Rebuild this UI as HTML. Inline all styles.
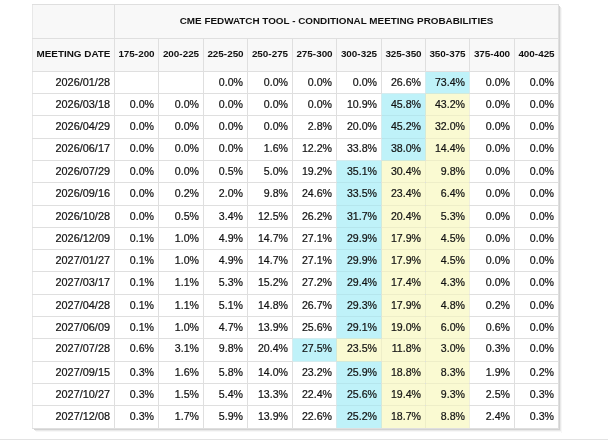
<!DOCTYPE html>
<html><head><meta charset="utf-8"><title>CME FedWatch Tool</title><style>
html,body{margin:0;padding:0;background:#fff;width:608px;height:444px;overflow:hidden;}
body{position:relative;font-family:"Liberation Sans",Arial,sans-serif;color:#111;}
div{position:absolute;box-sizing:border-box;white-space:nowrap;}
.hbg{background:#f8f8f8;}
.c{background:#bff2f9;}
.y{background:#fafad2;}
.vl{width:1px;background:#dfdfdf;}
.hl{height:1px;background:#dfdfdf;}
.th{text-align:center;font-weight:bold;font-size:9.9px;color:#111;}
.t{margin-top:-1.5px;}
.h2{margin-top:-1px;}
.td{-webkit-text-stroke:0.2px #111;text-align:right;font-size:10.6px;padding-right:4px;}
.dt{font-size:10.9px;}
</style></head>
<body>
<div style="left:32px;top:4px;width:527px;height:425px;background:#fff"></div>
<div style="left:559px;top:6px;width:1px;height:425px;background:#d2d2d2"></div>
<div style="left:34px;top:429px;width:526px;height:1px;background:#d2d2d2"></div>
<div style="left:560px;top:7px;width:1px;height:425px;background:#e9e9e9"></div>
<div style="left:35px;top:430px;width:526px;height:1px;background:#e9e9e9"></div>
<div style="left:561px;top:8px;width:1px;height:425px;background:#f7f7f7"></div>
<div style="left:36px;top:431px;width:526px;height:1px;background:#f7f7f7"></div>
<div style="left:0;top:439px;width:608px;height:1px;background:#e3e3e3"></div>
<div class="hbg" style="left:32px;top:4px;width:527px;height:67px"></div>
<div class="c" style="left:426px;top:72px;width:43px;height:21px"></div>
<div class="c" style="left:382px;top:94px;width:43px;height:21px"></div>
<div class="y" style="left:426px;top:94px;width:43px;height:21px"></div>
<div class="c" style="left:382px;top:116px;width:43px;height:22px"></div>
<div class="y" style="left:426px;top:116px;width:43px;height:22px"></div>
<div class="c" style="left:382px;top:139px;width:43px;height:21px"></div>
<div class="y" style="left:426px;top:139px;width:43px;height:21px"></div>
<div class="c" style="left:337px;top:161px;width:44px;height:21px"></div>
<div class="y" style="left:382px;top:161px;width:43px;height:21px"></div>
<div class="y" style="left:426px;top:161px;width:43px;height:21px"></div>
<div class="c" style="left:337px;top:183px;width:44px;height:22px"></div>
<div class="y" style="left:382px;top:183px;width:43px;height:22px"></div>
<div class="y" style="left:426px;top:183px;width:43px;height:22px"></div>
<div class="c" style="left:337px;top:206px;width:44px;height:21px"></div>
<div class="y" style="left:382px;top:206px;width:43px;height:21px"></div>
<div class="y" style="left:426px;top:206px;width:43px;height:21px"></div>
<div class="c" style="left:337px;top:228px;width:44px;height:21px"></div>
<div class="y" style="left:382px;top:228px;width:43px;height:21px"></div>
<div class="y" style="left:426px;top:228px;width:43px;height:21px"></div>
<div class="c" style="left:337px;top:250px;width:44px;height:21px"></div>
<div class="y" style="left:382px;top:250px;width:43px;height:21px"></div>
<div class="y" style="left:426px;top:250px;width:43px;height:21px"></div>
<div class="c" style="left:337px;top:272px;width:44px;height:22px"></div>
<div class="y" style="left:382px;top:272px;width:43px;height:22px"></div>
<div class="y" style="left:426px;top:272px;width:43px;height:22px"></div>
<div class="c" style="left:337px;top:295px;width:44px;height:21px"></div>
<div class="y" style="left:382px;top:295px;width:43px;height:21px"></div>
<div class="y" style="left:426px;top:295px;width:43px;height:21px"></div>
<div class="c" style="left:337px;top:317px;width:44px;height:21px"></div>
<div class="y" style="left:382px;top:317px;width:43px;height:21px"></div>
<div class="y" style="left:426px;top:317px;width:43px;height:21px"></div>
<div class="c" style="left:293px;top:339px;width:43px;height:22px"></div>
<div class="y" style="left:337px;top:339px;width:44px;height:22px"></div>
<div class="y" style="left:382px;top:339px;width:43px;height:22px"></div>
<div class="y" style="left:426px;top:339px;width:43px;height:22px"></div>
<div class="c" style="left:337px;top:362px;width:44px;height:21px"></div>
<div class="y" style="left:382px;top:362px;width:43px;height:21px"></div>
<div class="y" style="left:426px;top:362px;width:43px;height:21px"></div>
<div class="c" style="left:337px;top:384px;width:44px;height:21px"></div>
<div class="y" style="left:382px;top:384px;width:43px;height:21px"></div>
<div class="y" style="left:426px;top:384px;width:43px;height:21px"></div>
<div class="c" style="left:337px;top:406px;width:44px;height:22px"></div>
<div class="y" style="left:382px;top:406px;width:43px;height:22px"></div>
<div class="y" style="left:426px;top:406px;width:43px;height:22px"></div>
<div class="vl" style="left:32px;top:4px;height:425px;background:#e8e8e8"></div>
<div class="vl" style="left:114px;top:4px;height:425px"></div>
<div class="vl" style="left:158px;top:38px;height:391px"></div>
<div class="vl" style="left:203px;top:38px;height:391px"></div>
<div class="vl" style="left:247px;top:38px;height:391px"></div>
<div class="vl" style="left:292px;top:38px;height:391px"></div>
<div class="vl" style="left:336px;top:38px;height:391px"></div>
<div class="vl" style="left:381px;top:38px;height:391px"></div>
<div class="vl" style="left:425px;top:38px;height:391px"></div>
<div class="vl" style="left:469px;top:38px;height:391px"></div>
<div class="vl" style="left:514px;top:38px;height:391px"></div>
<div class="vl" style="left:558px;top:4px;height:425px"></div>
<div class="hl" style="left:32px;top:4px;width:527px"></div>
<div class="hl" style="left:32px;top:38px;width:527px"></div>
<div class="hl" style="left:32px;top:71px;width:527px"></div>
<div class="hl" style="left:32px;top:93px;width:527px"></div>
<div class="hl" style="left:32px;top:115px;width:527px"></div>
<div class="hl" style="left:32px;top:138px;width:527px"></div>
<div class="hl" style="left:32px;top:160px;width:527px"></div>
<div class="hl" style="left:32px;top:182px;width:527px"></div>
<div class="hl" style="left:32px;top:205px;width:527px"></div>
<div class="hl" style="left:32px;top:227px;width:527px"></div>
<div class="hl" style="left:32px;top:249px;width:527px"></div>
<div class="hl" style="left:32px;top:271px;width:527px"></div>
<div class="hl" style="left:32px;top:294px;width:527px"></div>
<div class="hl" style="left:32px;top:316px;width:527px"></div>
<div class="hl" style="left:32px;top:338px;width:527px"></div>
<div class="hl" style="left:32px;top:361px;width:527px"></div>
<div class="hl" style="left:32px;top:383px;width:527px"></div>
<div class="hl" style="left:32px;top:405px;width:527px"></div>
<div class="hl" style="left:32px;top:428px;width:527px"></div>
<div style="left:425px;top:72px;width:1px;height:21px;background:#d4ecef"></div>
<div style="left:469px;top:72px;width:1px;height:21px;background:#d4ecef"></div>
<div style="left:382px;top:93px;width:43px;height:1px;background:#d4ecef"></div>
<div style="left:381px;top:94px;width:1px;height:21px;background:#d4ecef"></div>
<div style="left:426px;top:93px;width:43px;height:1px;background:#d1eada"></div>
<div style="left:425px;top:94px;width:1px;height:21px;background:#d1eada"></div>
<div style="left:469px;top:94px;width:1px;height:21px;background:#f0f0dd"></div>
<div style="left:382px;top:115px;width:43px;height:1px;background:#b5e6ed"></div>
<div style="left:381px;top:116px;width:1px;height:22px;background:#d4ecef"></div>
<div style="left:426px;top:115px;width:43px;height:1px;background:#eeeec8"></div>
<div style="left:425px;top:116px;width:1px;height:22px;background:#d1eada"></div>
<div style="left:469px;top:116px;width:1px;height:22px;background:#f0f0dd"></div>
<div style="left:382px;top:138px;width:43px;height:1px;background:#b5e6ed"></div>
<div style="left:381px;top:139px;width:1px;height:21px;background:#d4ecef"></div>
<div style="left:426px;top:138px;width:43px;height:1px;background:#eeeec8"></div>
<div style="left:425px;top:139px;width:1px;height:21px;background:#d1eada"></div>
<div style="left:469px;top:139px;width:1px;height:21px;background:#f0f0dd"></div>
<div style="left:337px;top:160px;width:44px;height:1px;background:#d4ecef"></div>
<div style="left:336px;top:161px;width:1px;height:21px;background:#d4ecef"></div>
<div style="left:382px;top:160px;width:43px;height:1px;background:#d1eada"></div>
<div style="left:381px;top:161px;width:1px;height:21px;background:#d1eada"></div>
<div style="left:426px;top:160px;width:43px;height:1px;background:#eeeec8"></div>
<div style="left:425px;top:161px;width:1px;height:21px;background:#eeeec8"></div>
<div style="left:469px;top:161px;width:1px;height:21px;background:#f0f0dd"></div>
<div style="left:337px;top:182px;width:44px;height:1px;background:#b5e6ed"></div>
<div style="left:336px;top:183px;width:1px;height:22px;background:#d4ecef"></div>
<div style="left:382px;top:182px;width:43px;height:1px;background:#eeeec8"></div>
<div style="left:381px;top:183px;width:1px;height:22px;background:#d1eada"></div>
<div style="left:426px;top:182px;width:43px;height:1px;background:#eeeec8"></div>
<div style="left:425px;top:183px;width:1px;height:22px;background:#eeeec8"></div>
<div style="left:469px;top:183px;width:1px;height:22px;background:#f0f0dd"></div>
<div style="left:337px;top:205px;width:44px;height:1px;background:#b5e6ed"></div>
<div style="left:336px;top:206px;width:1px;height:21px;background:#d4ecef"></div>
<div style="left:382px;top:205px;width:43px;height:1px;background:#eeeec8"></div>
<div style="left:381px;top:206px;width:1px;height:21px;background:#d1eada"></div>
<div style="left:426px;top:205px;width:43px;height:1px;background:#eeeec8"></div>
<div style="left:425px;top:206px;width:1px;height:21px;background:#eeeec8"></div>
<div style="left:469px;top:206px;width:1px;height:21px;background:#f0f0dd"></div>
<div style="left:337px;top:227px;width:44px;height:1px;background:#b5e6ed"></div>
<div style="left:336px;top:228px;width:1px;height:21px;background:#d4ecef"></div>
<div style="left:382px;top:227px;width:43px;height:1px;background:#eeeec8"></div>
<div style="left:381px;top:228px;width:1px;height:21px;background:#d1eada"></div>
<div style="left:426px;top:227px;width:43px;height:1px;background:#eeeec8"></div>
<div style="left:425px;top:228px;width:1px;height:21px;background:#eeeec8"></div>
<div style="left:469px;top:228px;width:1px;height:21px;background:#f0f0dd"></div>
<div style="left:337px;top:249px;width:44px;height:1px;background:#b5e6ed"></div>
<div style="left:336px;top:250px;width:1px;height:21px;background:#d4ecef"></div>
<div style="left:382px;top:249px;width:43px;height:1px;background:#eeeec8"></div>
<div style="left:381px;top:250px;width:1px;height:21px;background:#d1eada"></div>
<div style="left:426px;top:249px;width:43px;height:1px;background:#eeeec8"></div>
<div style="left:425px;top:250px;width:1px;height:21px;background:#eeeec8"></div>
<div style="left:469px;top:250px;width:1px;height:21px;background:#f0f0dd"></div>
<div style="left:337px;top:271px;width:44px;height:1px;background:#b5e6ed"></div>
<div style="left:336px;top:272px;width:1px;height:22px;background:#d4ecef"></div>
<div style="left:382px;top:271px;width:43px;height:1px;background:#eeeec8"></div>
<div style="left:381px;top:272px;width:1px;height:22px;background:#d1eada"></div>
<div style="left:426px;top:271px;width:43px;height:1px;background:#eeeec8"></div>
<div style="left:425px;top:272px;width:1px;height:22px;background:#eeeec8"></div>
<div style="left:469px;top:272px;width:1px;height:22px;background:#f0f0dd"></div>
<div style="left:337px;top:294px;width:44px;height:1px;background:#b5e6ed"></div>
<div style="left:336px;top:295px;width:1px;height:21px;background:#d4ecef"></div>
<div style="left:382px;top:294px;width:43px;height:1px;background:#eeeec8"></div>
<div style="left:381px;top:295px;width:1px;height:21px;background:#d1eada"></div>
<div style="left:426px;top:294px;width:43px;height:1px;background:#eeeec8"></div>
<div style="left:425px;top:295px;width:1px;height:21px;background:#eeeec8"></div>
<div style="left:469px;top:295px;width:1px;height:21px;background:#f0f0dd"></div>
<div style="left:337px;top:316px;width:44px;height:1px;background:#b5e6ed"></div>
<div style="left:336px;top:317px;width:1px;height:21px;background:#d4ecef"></div>
<div style="left:382px;top:316px;width:43px;height:1px;background:#eeeec8"></div>
<div style="left:381px;top:317px;width:1px;height:21px;background:#d1eada"></div>
<div style="left:426px;top:316px;width:43px;height:1px;background:#eeeec8"></div>
<div style="left:425px;top:317px;width:1px;height:21px;background:#eeeec8"></div>
<div style="left:469px;top:317px;width:1px;height:21px;background:#f0f0dd"></div>
<div style="left:293px;top:338px;width:43px;height:1px;background:#d4ecef"></div>
<div style="left:293px;top:361px;width:43px;height:1px;background:#d4ecef"></div>
<div style="left:292px;top:339px;width:1px;height:22px;background:#d4ecef"></div>
<div style="left:337px;top:338px;width:44px;height:1px;background:#d1eada"></div>
<div style="left:336px;top:339px;width:1px;height:22px;background:#d1eada"></div>
<div style="left:382px;top:338px;width:43px;height:1px;background:#eeeec8"></div>
<div style="left:381px;top:339px;width:1px;height:22px;background:#eeeec8"></div>
<div style="left:426px;top:338px;width:43px;height:1px;background:#eeeec8"></div>
<div style="left:425px;top:339px;width:1px;height:22px;background:#eeeec8"></div>
<div style="left:469px;top:339px;width:1px;height:22px;background:#f0f0dd"></div>
<div style="left:337px;top:361px;width:44px;height:1px;background:#d1eada"></div>
<div style="left:336px;top:362px;width:1px;height:21px;background:#d4ecef"></div>
<div style="left:382px;top:361px;width:43px;height:1px;background:#eeeec8"></div>
<div style="left:381px;top:362px;width:1px;height:21px;background:#d1eada"></div>
<div style="left:426px;top:361px;width:43px;height:1px;background:#eeeec8"></div>
<div style="left:425px;top:362px;width:1px;height:21px;background:#eeeec8"></div>
<div style="left:469px;top:362px;width:1px;height:21px;background:#f0f0dd"></div>
<div style="left:337px;top:383px;width:44px;height:1px;background:#b5e6ed"></div>
<div style="left:336px;top:384px;width:1px;height:21px;background:#d4ecef"></div>
<div style="left:382px;top:383px;width:43px;height:1px;background:#eeeec8"></div>
<div style="left:381px;top:384px;width:1px;height:21px;background:#d1eada"></div>
<div style="left:426px;top:383px;width:43px;height:1px;background:#eeeec8"></div>
<div style="left:425px;top:384px;width:1px;height:21px;background:#eeeec8"></div>
<div style="left:469px;top:384px;width:1px;height:21px;background:#f0f0dd"></div>
<div style="left:337px;top:405px;width:44px;height:1px;background:#b5e6ed"></div>
<div style="left:336px;top:406px;width:1px;height:22px;background:#d4ecef"></div>
<div style="left:382px;top:405px;width:43px;height:1px;background:#eeeec8"></div>
<div style="left:381px;top:406px;width:1px;height:22px;background:#d1eada"></div>
<div style="left:426px;top:405px;width:43px;height:1px;background:#eeeec8"></div>
<div style="left:425px;top:406px;width:1px;height:22px;background:#eeeec8"></div>
<div style="left:469px;top:406px;width:1px;height:22px;background:#f0f0dd"></div>
<div class="th t" style="left:115px;top:5px;width:443px;height:33px;line-height:33px">CME FEDWATCH TOOL - CONDITIONAL MEETING PROBABILITIES</div>
<div class="th h2" style="left:33px;top:39px;width:81px;height:32px;line-height:32px">MEETING DATE</div>
<div class="th h2" style="left:115px;top:39px;width:43px;height:32px;line-height:32px">175-200</div>
<div class="th h2" style="left:159px;top:39px;width:44px;height:32px;line-height:32px">200-225</div>
<div class="th h2" style="left:204px;top:39px;width:43px;height:32px;line-height:32px">225-250</div>
<div class="th h2" style="left:248px;top:39px;width:44px;height:32px;line-height:32px">250-275</div>
<div class="th h2" style="left:293px;top:39px;width:43px;height:32px;line-height:32px">275-300</div>
<div class="th h2" style="left:337px;top:39px;width:44px;height:32px;line-height:32px">300-325</div>
<div class="th h2" style="left:382px;top:39px;width:43px;height:32px;line-height:32px">325-350</div>
<div class="th h2" style="left:426px;top:39px;width:43px;height:32px;line-height:32px">350-375</div>
<div class="th h2" style="left:470px;top:39px;width:44px;height:32px;line-height:32px">375-400</div>
<div class="th h2" style="left:515px;top:39px;width:43px;height:32px;line-height:32px">400-425</div>
<div class="td dt" style="left:33px;top:72px;width:81px;height:21px;line-height:21px">2026/01/28</div>
<div class="td" style="left:204px;top:72px;width:43px;height:21px;line-height:21px">0.0%</div>
<div class="td" style="left:248px;top:72px;width:44px;height:21px;line-height:21px">0.0%</div>
<div class="td" style="left:293px;top:72px;width:43px;height:21px;line-height:21px">0.0%</div>
<div class="td" style="left:337px;top:72px;width:44px;height:21px;line-height:21px">0.0%</div>
<div class="td" style="left:382px;top:72px;width:43px;height:21px;line-height:21px">26.6%</div>
<div class="td" style="left:426px;top:72px;width:43px;height:21px;line-height:21px">73.4%</div>
<div class="td" style="left:470px;top:72px;width:44px;height:21px;line-height:21px">0.0%</div>
<div class="td" style="left:515px;top:72px;width:43px;height:21px;line-height:21px">0.0%</div>
<div class="td dt" style="left:33px;top:94px;width:81px;height:21px;line-height:21px">2026/03/18</div>
<div class="td" style="left:115px;top:94px;width:43px;height:21px;line-height:21px">0.0%</div>
<div class="td" style="left:159px;top:94px;width:44px;height:21px;line-height:21px">0.0%</div>
<div class="td" style="left:204px;top:94px;width:43px;height:21px;line-height:21px">0.0%</div>
<div class="td" style="left:248px;top:94px;width:44px;height:21px;line-height:21px">0.0%</div>
<div class="td" style="left:293px;top:94px;width:43px;height:21px;line-height:21px">0.0%</div>
<div class="td" style="left:337px;top:94px;width:44px;height:21px;line-height:21px">10.9%</div>
<div class="td" style="left:382px;top:94px;width:43px;height:21px;line-height:21px">45.8%</div>
<div class="td" style="left:426px;top:94px;width:43px;height:21px;line-height:21px">43.2%</div>
<div class="td" style="left:470px;top:94px;width:44px;height:21px;line-height:21px">0.0%</div>
<div class="td" style="left:515px;top:94px;width:43px;height:21px;line-height:21px">0.0%</div>
<div class="td dt" style="left:33px;top:116px;width:81px;height:21px;line-height:21px">2026/04/29</div>
<div class="td" style="left:115px;top:116px;width:43px;height:21px;line-height:21px">0.0%</div>
<div class="td" style="left:159px;top:116px;width:44px;height:21px;line-height:21px">0.0%</div>
<div class="td" style="left:204px;top:116px;width:43px;height:21px;line-height:21px">0.0%</div>
<div class="td" style="left:248px;top:116px;width:44px;height:21px;line-height:21px">0.0%</div>
<div class="td" style="left:293px;top:116px;width:43px;height:21px;line-height:21px">2.8%</div>
<div class="td" style="left:337px;top:116px;width:44px;height:21px;line-height:21px">20.0%</div>
<div class="td" style="left:382px;top:116px;width:43px;height:21px;line-height:21px">45.2%</div>
<div class="td" style="left:426px;top:116px;width:43px;height:21px;line-height:21px">32.0%</div>
<div class="td" style="left:470px;top:116px;width:44px;height:21px;line-height:21px">0.0%</div>
<div class="td" style="left:515px;top:116px;width:43px;height:21px;line-height:21px">0.0%</div>
<div class="td dt" style="left:33px;top:138px;width:81px;height:21px;line-height:21px">2026/06/17</div>
<div class="td" style="left:115px;top:138px;width:43px;height:21px;line-height:21px">0.0%</div>
<div class="td" style="left:159px;top:138px;width:44px;height:21px;line-height:21px">0.0%</div>
<div class="td" style="left:204px;top:138px;width:43px;height:21px;line-height:21px">0.0%</div>
<div class="td" style="left:248px;top:138px;width:44px;height:21px;line-height:21px">1.6%</div>
<div class="td" style="left:293px;top:138px;width:43px;height:21px;line-height:21px">12.2%</div>
<div class="td" style="left:337px;top:138px;width:44px;height:21px;line-height:21px">33.8%</div>
<div class="td" style="left:382px;top:138px;width:43px;height:21px;line-height:21px">38.0%</div>
<div class="td" style="left:426px;top:138px;width:43px;height:21px;line-height:21px">14.4%</div>
<div class="td" style="left:470px;top:138px;width:44px;height:21px;line-height:21px">0.0%</div>
<div class="td" style="left:515px;top:138px;width:43px;height:21px;line-height:21px">0.0%</div>
<div class="td dt" style="left:33px;top:161px;width:81px;height:21px;line-height:21px">2026/07/29</div>
<div class="td" style="left:115px;top:161px;width:43px;height:21px;line-height:21px">0.0%</div>
<div class="td" style="left:159px;top:161px;width:44px;height:21px;line-height:21px">0.0%</div>
<div class="td" style="left:204px;top:161px;width:43px;height:21px;line-height:21px">0.5%</div>
<div class="td" style="left:248px;top:161px;width:44px;height:21px;line-height:21px">5.0%</div>
<div class="td" style="left:293px;top:161px;width:43px;height:21px;line-height:21px">19.2%</div>
<div class="td" style="left:337px;top:161px;width:44px;height:21px;line-height:21px">35.1%</div>
<div class="td" style="left:382px;top:161px;width:43px;height:21px;line-height:21px">30.4%</div>
<div class="td" style="left:426px;top:161px;width:43px;height:21px;line-height:21px">9.8%</div>
<div class="td" style="left:470px;top:161px;width:44px;height:21px;line-height:21px">0.0%</div>
<div class="td" style="left:515px;top:161px;width:43px;height:21px;line-height:21px">0.0%</div>
<div class="td dt" style="left:33px;top:183px;width:81px;height:21px;line-height:21px">2026/09/16</div>
<div class="td" style="left:115px;top:183px;width:43px;height:21px;line-height:21px">0.0%</div>
<div class="td" style="left:159px;top:183px;width:44px;height:21px;line-height:21px">0.2%</div>
<div class="td" style="left:204px;top:183px;width:43px;height:21px;line-height:21px">2.0%</div>
<div class="td" style="left:248px;top:183px;width:44px;height:21px;line-height:21px">9.8%</div>
<div class="td" style="left:293px;top:183px;width:43px;height:21px;line-height:21px">24.6%</div>
<div class="td" style="left:337px;top:183px;width:44px;height:21px;line-height:21px">33.5%</div>
<div class="td" style="left:382px;top:183px;width:43px;height:21px;line-height:21px">23.4%</div>
<div class="td" style="left:426px;top:183px;width:43px;height:21px;line-height:21px">6.4%</div>
<div class="td" style="left:470px;top:183px;width:44px;height:21px;line-height:21px">0.0%</div>
<div class="td" style="left:515px;top:183px;width:43px;height:21px;line-height:21px">0.0%</div>
<div class="td dt" style="left:33px;top:206px;width:81px;height:21px;line-height:21px">2026/10/28</div>
<div class="td" style="left:115px;top:206px;width:43px;height:21px;line-height:21px">0.0%</div>
<div class="td" style="left:159px;top:206px;width:44px;height:21px;line-height:21px">0.5%</div>
<div class="td" style="left:204px;top:206px;width:43px;height:21px;line-height:21px">3.4%</div>
<div class="td" style="left:248px;top:206px;width:44px;height:21px;line-height:21px">12.5%</div>
<div class="td" style="left:293px;top:206px;width:43px;height:21px;line-height:21px">26.2%</div>
<div class="td" style="left:337px;top:206px;width:44px;height:21px;line-height:21px">31.7%</div>
<div class="td" style="left:382px;top:206px;width:43px;height:21px;line-height:21px">20.4%</div>
<div class="td" style="left:426px;top:206px;width:43px;height:21px;line-height:21px">5.3%</div>
<div class="td" style="left:470px;top:206px;width:44px;height:21px;line-height:21px">0.0%</div>
<div class="td" style="left:515px;top:206px;width:43px;height:21px;line-height:21px">0.0%</div>
<div class="td dt" style="left:33px;top:228px;width:81px;height:21px;line-height:21px">2026/12/09</div>
<div class="td" style="left:115px;top:228px;width:43px;height:21px;line-height:21px">0.1%</div>
<div class="td" style="left:159px;top:228px;width:44px;height:21px;line-height:21px">1.0%</div>
<div class="td" style="left:204px;top:228px;width:43px;height:21px;line-height:21px">4.9%</div>
<div class="td" style="left:248px;top:228px;width:44px;height:21px;line-height:21px">14.7%</div>
<div class="td" style="left:293px;top:228px;width:43px;height:21px;line-height:21px">27.1%</div>
<div class="td" style="left:337px;top:228px;width:44px;height:21px;line-height:21px">29.9%</div>
<div class="td" style="left:382px;top:228px;width:43px;height:21px;line-height:21px">17.9%</div>
<div class="td" style="left:426px;top:228px;width:43px;height:21px;line-height:21px">4.5%</div>
<div class="td" style="left:470px;top:228px;width:44px;height:21px;line-height:21px">0.0%</div>
<div class="td" style="left:515px;top:228px;width:43px;height:21px;line-height:21px">0.0%</div>
<div class="td dt" style="left:33px;top:250px;width:81px;height:21px;line-height:21px">2027/01/27</div>
<div class="td" style="left:115px;top:250px;width:43px;height:21px;line-height:21px">0.1%</div>
<div class="td" style="left:159px;top:250px;width:44px;height:21px;line-height:21px">1.0%</div>
<div class="td" style="left:204px;top:250px;width:43px;height:21px;line-height:21px">4.9%</div>
<div class="td" style="left:248px;top:250px;width:44px;height:21px;line-height:21px">14.7%</div>
<div class="td" style="left:293px;top:250px;width:43px;height:21px;line-height:21px">27.1%</div>
<div class="td" style="left:337px;top:250px;width:44px;height:21px;line-height:21px">29.9%</div>
<div class="td" style="left:382px;top:250px;width:43px;height:21px;line-height:21px">17.9%</div>
<div class="td" style="left:426px;top:250px;width:43px;height:21px;line-height:21px">4.5%</div>
<div class="td" style="left:470px;top:250px;width:44px;height:21px;line-height:21px">0.0%</div>
<div class="td" style="left:515px;top:250px;width:43px;height:21px;line-height:21px">0.0%</div>
<div class="td dt" style="left:33px;top:272px;width:81px;height:21px;line-height:21px">2027/03/17</div>
<div class="td" style="left:115px;top:272px;width:43px;height:21px;line-height:21px">0.1%</div>
<div class="td" style="left:159px;top:272px;width:44px;height:21px;line-height:21px">1.1%</div>
<div class="td" style="left:204px;top:272px;width:43px;height:21px;line-height:21px">5.3%</div>
<div class="td" style="left:248px;top:272px;width:44px;height:21px;line-height:21px">15.2%</div>
<div class="td" style="left:293px;top:272px;width:43px;height:21px;line-height:21px">27.2%</div>
<div class="td" style="left:337px;top:272px;width:44px;height:21px;line-height:21px">29.4%</div>
<div class="td" style="left:382px;top:272px;width:43px;height:21px;line-height:21px">17.4%</div>
<div class="td" style="left:426px;top:272px;width:43px;height:21px;line-height:21px">4.3%</div>
<div class="td" style="left:470px;top:272px;width:44px;height:21px;line-height:21px">0.0%</div>
<div class="td" style="left:515px;top:272px;width:43px;height:21px;line-height:21px">0.0%</div>
<div class="td dt" style="left:33px;top:295px;width:81px;height:21px;line-height:21px">2027/04/28</div>
<div class="td" style="left:115px;top:295px;width:43px;height:21px;line-height:21px">0.1%</div>
<div class="td" style="left:159px;top:295px;width:44px;height:21px;line-height:21px">1.1%</div>
<div class="td" style="left:204px;top:295px;width:43px;height:21px;line-height:21px">5.1%</div>
<div class="td" style="left:248px;top:295px;width:44px;height:21px;line-height:21px">14.8%</div>
<div class="td" style="left:293px;top:295px;width:43px;height:21px;line-height:21px">26.7%</div>
<div class="td" style="left:337px;top:295px;width:44px;height:21px;line-height:21px">29.3%</div>
<div class="td" style="left:382px;top:295px;width:43px;height:21px;line-height:21px">17.9%</div>
<div class="td" style="left:426px;top:295px;width:43px;height:21px;line-height:21px">4.8%</div>
<div class="td" style="left:470px;top:295px;width:44px;height:21px;line-height:21px">0.2%</div>
<div class="td" style="left:515px;top:295px;width:43px;height:21px;line-height:21px">0.0%</div>
<div class="td dt" style="left:33px;top:317px;width:81px;height:21px;line-height:21px">2027/06/09</div>
<div class="td" style="left:115px;top:317px;width:43px;height:21px;line-height:21px">0.1%</div>
<div class="td" style="left:159px;top:317px;width:44px;height:21px;line-height:21px">1.0%</div>
<div class="td" style="left:204px;top:317px;width:43px;height:21px;line-height:21px">4.7%</div>
<div class="td" style="left:248px;top:317px;width:44px;height:21px;line-height:21px">13.9%</div>
<div class="td" style="left:293px;top:317px;width:43px;height:21px;line-height:21px">25.6%</div>
<div class="td" style="left:337px;top:317px;width:44px;height:21px;line-height:21px">29.1%</div>
<div class="td" style="left:382px;top:317px;width:43px;height:21px;line-height:21px">19.0%</div>
<div class="td" style="left:426px;top:317px;width:43px;height:21px;line-height:21px">6.0%</div>
<div class="td" style="left:470px;top:317px;width:44px;height:21px;line-height:21px">0.6%</div>
<div class="td" style="left:515px;top:317px;width:43px;height:21px;line-height:21px">0.0%</div>
<div class="td dt" style="left:33px;top:338px;width:81px;height:21px;line-height:21px">2027/07/28</div>
<div class="td" style="left:115px;top:338px;width:43px;height:21px;line-height:21px">0.6%</div>
<div class="td" style="left:159px;top:338px;width:44px;height:21px;line-height:21px">3.1%</div>
<div class="td" style="left:204px;top:338px;width:43px;height:21px;line-height:21px">9.8%</div>
<div class="td" style="left:248px;top:338px;width:44px;height:21px;line-height:21px">20.4%</div>
<div class="td" style="left:293px;top:338px;width:43px;height:21px;line-height:21px">27.5%</div>
<div class="td" style="left:337px;top:338px;width:44px;height:21px;line-height:21px">23.5%</div>
<div class="td" style="left:382px;top:338px;width:43px;height:21px;line-height:21px">11.8%</div>
<div class="td" style="left:426px;top:338px;width:43px;height:21px;line-height:21px">3.0%</div>
<div class="td" style="left:470px;top:338px;width:44px;height:21px;line-height:21px">0.3%</div>
<div class="td" style="left:515px;top:338px;width:43px;height:21px;line-height:21px">0.0%</div>
<div class="td dt" style="left:33px;top:362px;width:81px;height:21px;line-height:21px">2027/09/15</div>
<div class="td" style="left:115px;top:362px;width:43px;height:21px;line-height:21px">0.3%</div>
<div class="td" style="left:159px;top:362px;width:44px;height:21px;line-height:21px">1.6%</div>
<div class="td" style="left:204px;top:362px;width:43px;height:21px;line-height:21px">5.8%</div>
<div class="td" style="left:248px;top:362px;width:44px;height:21px;line-height:21px">14.0%</div>
<div class="td" style="left:293px;top:362px;width:43px;height:21px;line-height:21px">23.2%</div>
<div class="td" style="left:337px;top:362px;width:44px;height:21px;line-height:21px">25.9%</div>
<div class="td" style="left:382px;top:362px;width:43px;height:21px;line-height:21px">18.8%</div>
<div class="td" style="left:426px;top:362px;width:43px;height:21px;line-height:21px">8.3%</div>
<div class="td" style="left:470px;top:362px;width:44px;height:21px;line-height:21px">1.9%</div>
<div class="td" style="left:515px;top:362px;width:43px;height:21px;line-height:21px">0.2%</div>
<div class="td dt" style="left:33px;top:384px;width:81px;height:21px;line-height:21px">2027/10/27</div>
<div class="td" style="left:115px;top:384px;width:43px;height:21px;line-height:21px">0.3%</div>
<div class="td" style="left:159px;top:384px;width:44px;height:21px;line-height:21px">1.5%</div>
<div class="td" style="left:204px;top:384px;width:43px;height:21px;line-height:21px">5.4%</div>
<div class="td" style="left:248px;top:384px;width:44px;height:21px;line-height:21px">13.3%</div>
<div class="td" style="left:293px;top:384px;width:43px;height:21px;line-height:21px">22.4%</div>
<div class="td" style="left:337px;top:384px;width:44px;height:21px;line-height:21px">25.6%</div>
<div class="td" style="left:382px;top:384px;width:43px;height:21px;line-height:21px">19.4%</div>
<div class="td" style="left:426px;top:384px;width:43px;height:21px;line-height:21px">9.3%</div>
<div class="td" style="left:470px;top:384px;width:44px;height:21px;line-height:21px">2.5%</div>
<div class="td" style="left:515px;top:384px;width:43px;height:21px;line-height:21px">0.3%</div>
<div class="td dt" style="left:33px;top:406px;width:81px;height:21px;line-height:21px">2027/12/08</div>
<div class="td" style="left:115px;top:406px;width:43px;height:21px;line-height:21px">0.3%</div>
<div class="td" style="left:159px;top:406px;width:44px;height:21px;line-height:21px">1.7%</div>
<div class="td" style="left:204px;top:406px;width:43px;height:21px;line-height:21px">5.9%</div>
<div class="td" style="left:248px;top:406px;width:44px;height:21px;line-height:21px">13.9%</div>
<div class="td" style="left:293px;top:406px;width:43px;height:21px;line-height:21px">22.6%</div>
<div class="td" style="left:337px;top:406px;width:44px;height:21px;line-height:21px">25.2%</div>
<div class="td" style="left:382px;top:406px;width:43px;height:21px;line-height:21px">18.7%</div>
<div class="td" style="left:426px;top:406px;width:43px;height:21px;line-height:21px">8.8%</div>
<div class="td" style="left:470px;top:406px;width:44px;height:21px;line-height:21px">2.4%</div>
<div class="td" style="left:515px;top:406px;width:43px;height:21px;line-height:21px">0.3%</div>
</body></html>
